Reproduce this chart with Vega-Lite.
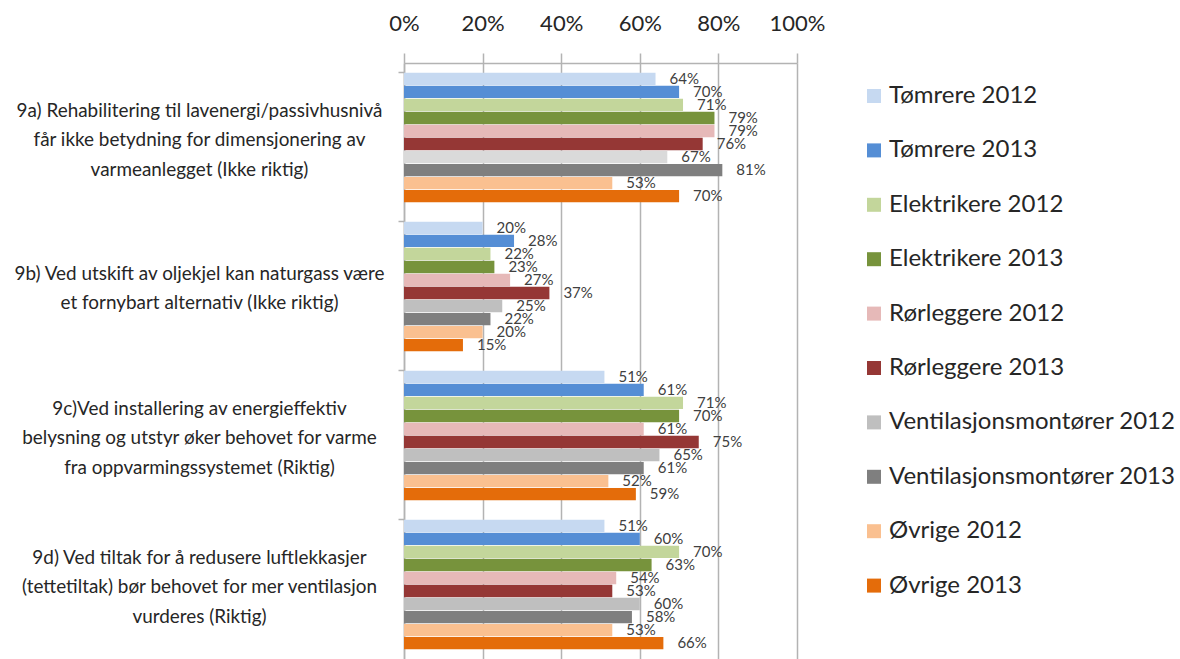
{
  "$schema": "https://vega.github.io/schema/vega-lite/v6.json",
  "autosize": {"type": "none"},
  "padding": {"left": 404, "top": 63, "right": 383, "bottom": 0},
  "width": 393,
  "height": 596,
  "background": "white",
  "config": {"view": {"stroke": null}, "font": "Lato"},
  "data": {"values": [
    {"q": "9a", "s": "Tømrere 2012", "v": 0.64},
    {"q": "9a", "s": "Tømrere 2013", "v": 0.70},
    {"q": "9a", "s": "Elektrikere 2012", "v": 0.71},
    {"q": "9a", "s": "Elektrikere 2013", "v": 0.79},
    {"q": "9a", "s": "Rørleggere 2012", "v": 0.79},
    {"q": "9a", "s": "Rørleggere 2013", "v": 0.76},
    {"q": "9a", "s": "Ventilasjonsmontører 2012", "v": 0.67},
    {"q": "9a", "s": "Ventilasjonsmontører 2013", "v": 0.81},
    {"q": "9a", "s": "Øvrige 2012", "v": 0.53},
    {"q": "9a", "s": "Øvrige 2013", "v": 0.70},
    {"q": "9b", "s": "Tømrere 2012", "v": 0.20},
    {"q": "9b", "s": "Tømrere 2013", "v": 0.28},
    {"q": "9b", "s": "Elektrikere 2012", "v": 0.22},
    {"q": "9b", "s": "Elektrikere 2013", "v": 0.23},
    {"q": "9b", "s": "Rørleggere 2012", "v": 0.27},
    {"q": "9b", "s": "Rørleggere 2013", "v": 0.37},
    {"q": "9b", "s": "Ventilasjonsmontører 2012", "v": 0.25},
    {"q": "9b", "s": "Ventilasjonsmontører 2013", "v": 0.22},
    {"q": "9b", "s": "Øvrige 2012", "v": 0.20},
    {"q": "9b", "s": "Øvrige 2013", "v": 0.15},
    {"q": "9c", "s": "Tømrere 2012", "v": 0.51},
    {"q": "9c", "s": "Tømrere 2013", "v": 0.61},
    {"q": "9c", "s": "Elektrikere 2012", "v": 0.71},
    {"q": "9c", "s": "Elektrikere 2013", "v": 0.70},
    {"q": "9c", "s": "Rørleggere 2012", "v": 0.61},
    {"q": "9c", "s": "Rørleggere 2013", "v": 0.75},
    {"q": "9c", "s": "Ventilasjonsmontører 2012", "v": 0.65},
    {"q": "9c", "s": "Ventilasjonsmontører 2013", "v": 0.61},
    {"q": "9c", "s": "Øvrige 2012", "v": 0.52},
    {"q": "9c", "s": "Øvrige 2013", "v": 0.59},
    {"q": "9d", "s": "Tømrere 2012", "v": 0.51},
    {"q": "9d", "s": "Tømrere 2013", "v": 0.60},
    {"q": "9d", "s": "Elektrikere 2012", "v": 0.70},
    {"q": "9d", "s": "Elektrikere 2013", "v": 0.63},
    {"q": "9d", "s": "Rørleggere 2012", "v": 0.54},
    {"q": "9d", "s": "Rørleggere 2013", "v": 0.53},
    {"q": "9d", "s": "Ventilasjonsmontører 2012", "v": 0.60},
    {"q": "9d", "s": "Ventilasjonsmontører 2013", "v": 0.58},
    {"q": "9d", "s": "Øvrige 2012", "v": 0.53},
    {"q": "9d", "s": "Øvrige 2013", "v": 0.66}
  ]},
  "encoding": {
    "y": {
      "field": "q", "type": "nominal", "sort": ["9a", "9b", "9c", "9d"],
      "scale": {"paddingInner": 0.13, "paddingOuter": 0.065},
      "axis": {
        "title": null,
        "bandPosition": 0,
        "domainColor": "#B3B3B3", "domainWidth": 1.5,
        "tickColor": "#B3B3B3", "tickWidth": 1.5, "tickSize": 6,
        "labelExpr": "datum.value == '9a' ? ['9a) Rehabilitering til lavenergi/passivhusnivå', 'får ikke betydning for dimensjonering av', 'varmeanlegget (Ikke riktig)'] : datum.value == '9b' ? ['9b) Ved utskift av oljekjel kan naturgass være', 'et fornybart alternativ (Ikke riktig)'] : datum.value == '9c' ? ['9c)Ved installering av energieffektiv', 'belysning og utstyr øker behovet for varme', 'fra oppvarmingssystemet (Riktig)'] : ['9d) Ved tiltak for å redusere luftlekkasjer', '(tettetiltak) bør behovet for mer ventilasjon', 'vurderes (Riktig)']",
        "labelAlign": "center", "labelBaseline": "middle",
        "labelOffset": {"condition": {"test": "datum.value == '9b'", "value": -13}, "value": -27},
        "labelPadding": 199, "labelLimit": 500,
        "labelFontSize": 18.9, "labelLineHeight": 29.5, "labelColor": "#262626",
        "labelFont": "Lato", "labelFontWeight": "normal"
      }
    },
    "yOffset": {
      "field": "s", "type": "nominal",
      "sort": ["Tømrere 2012", "Tømrere 2013", "Elektrikere 2012", "Elektrikere 2013", "Rørleggere 2012", "Rørleggere 2013", "Ventilasjonsmontører 2012", "Ventilasjonsmontører 2013", "Øvrige 2012", "Øvrige 2013"],
      "scale": {"paddingInner": 0.05}
    },
    "x": {
      "field": "v", "type": "quantitative",
      "scale": {"domain": [0, 1], "nice": false},
      "axis": {
        "orient": "top", "title": null, "format": ".0%",
        "values": [0, 0.2, 0.4, 0.6, 0.8, 1],
        "labelFlush": false, "labelOverlap": false,
        "grid": true, "gridColor": "#B3B3B3", "gridWidth": 1.5,
        "domainColor": "#B3B3B3", "domainWidth": 1.5,
        "tickColor": "#B3B3B3", "tickWidth": 1.5, "tickSize": 10,
        "labelPadding": 18, "labelFontSize": 22, "labelColor": "#262626",
        "labelFont": "Lato", "labelFontWeight": "normal"
      }
    }
  },
  "layer": [
    {
      "mark": {"type": "bar"},
      "encoding": {
        "color": {
          "condition": {"test": "datum.q == '9a' && datum.s == 'Ventilasjonsmontører 2012'", "value": "#DADADA"},
          "field": "s", "type": "nominal",
          "scale": {
            "domain": ["Tømrere 2012", "Tømrere 2013", "Elektrikere 2012", "Elektrikere 2013", "Rørleggere 2012", "Rørleggere 2013", "Ventilasjonsmontører 2012", "Ventilasjonsmontører 2013", "Øvrige 2012", "Øvrige 2013"],
            "range": ["#C6D9F1", "#558ED5", "#C3D69B", "#77933C", "#E6B9B8", "#953735", "#BFBFBF", "#7F7F7F", "#FAC090", "#E46C0A"]
          },
          "legend": {
            "title": null, "orient": "none", "legendX": 458, "legendY": 21,
            "symbolType": "square", "symbolSize": 196, "symbolStrokeWidth": 0,
            "labelFontSize": 24, "labelFont": "Lato", "labelColor": "#262626",
            "labelFontWeight": "normal", "labelLimit": 500,
            "labelOffset": 3, "rowPadding": 30.4, "padding": 0
          }
        }
      }
    },
    {
      "mark": {"type": "text", "align": "left", "baseline": "middle", "dx": 14, "fontSize": 15, "color": "#404040", "font": "Lato"},
      "encoding": {
        "text": {"field": "v", "type": "quantitative", "format": ".0%"}
      }
    }
  ]
}
